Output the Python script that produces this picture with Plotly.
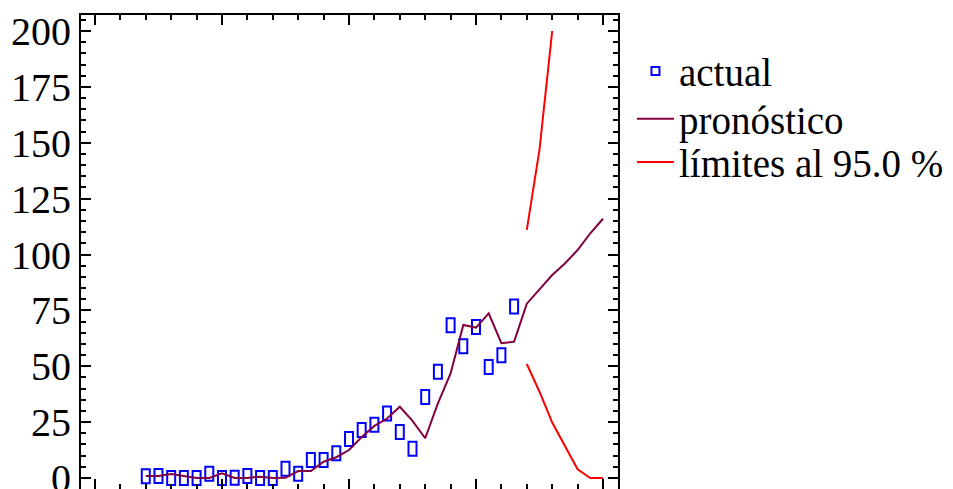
import plotly.graph_objects as go

# ---- data ----
x_actual = list(range(4, 34))
actual = [0.8, 0.9, 0, 0, 0, 1.9, 0, 0.1, 0.9, 0, 0, 4.1, 1.9, 8.1, 8.1, 11.1,
          17.5, 21.5, 23.8, 28.9, 20.6, 13.1, 36.2, 47.5, 68.3, 59.0, 67.6, 49.7, 54.9, 76.7]

x_forecast = list(range(4, 41))
forecast = [0.9, 0.9, 1.8, 0.9, 0, 0, 2.1, 0, 0, 0.6, 0, 0.1, 3.1, 3.1, 7.3, 9.3,
            12.5, 18.3, 23.3, 26.6, 31.9, 25.6, 17.8, 33.4, 46.8, 68.5, 67.3, 73.7,
            60.3, 61.0, 78.0, 84.4, 90.8, 96.0, 102.0, 109.5, 116.0]

x_limits = list(range(34, 41))
upper = [111.0, 147.0, 200.0, None, None, None, None]
lower = [51.0, 38.6, 24.8, 14.0, 3.9, 0, 0]

y_ticks = [0, 25, 50, 75, 100, 125, 150, 175, 200]

FONT = "Liberation Serif"
BLUE = "#0000FF"
MAROON = "#800040"
RED = "#FF0000"

fig = go.Figure()

# actual values (hover layer; visible markers drawn as pixel-sized rectangles below)
fig.add_trace(go.Scatter(x=x_actual, y=actual, mode="markers", name="actual",
                         marker=dict(color="rgba(0,0,0,0)", size=10),
                         showlegend=False))
# legend entry for actual
fig.add_trace(go.Scatter(x=[None], y=[None], mode="markers", name="actual",
                         marker=dict(symbol="square-open", size=8, color=BLUE,
                                     line=dict(color=BLUE, width=2)),
                         legend="legend"))
fig.add_trace(go.Scatter(x=x_forecast, y=forecast, mode="lines", name="pronóstico",
                         line=dict(color=MAROON, width=2), legend="legend2"))
fig.add_trace(go.Scatter(x=x_limits, y=upper, mode="lines", name="límites al 95.0 %",
                         line=dict(color=RED, width=2), legendgroup="lim",
                         legend="legend3"))
fig.add_trace(go.Scatter(x=x_limits, y=lower, mode="lines", name="lower",
                         line=dict(color=RED, width=2), legendgroup="lim",
                         showlegend=False, legend="legend3"))

# rectangular open markers (pixel-sized, anchored at data positions)
for xv, yv in zip(x_actual, actual):
    fig.add_shape(type="rect", xref="x", yref="y",
                  xsizemode="pixel", ysizemode="pixel",
                  xanchor=xv, yanchor=yv,
                  x0=-4, x1=4, y0=-7, y1=7,
                  line=dict(color=BLUE, width=2), layer="below")

axis_common = dict(showline=True, linecolor="black", linewidth=2, mirror="ticks",
                   ticks="inside", tickcolor="black", tickwidth=2,
                   showgrid=False, zeroline=False, automargin=False)

fig.update_xaxes(range=[-1.1, 41.18], dtick=10, tick0=0, ticklen=10,
                 showticklabels=False,
                 minor=dict(dtick=2, ticks="inside", ticklen=5, tickwidth=1.5,
                            tickcolor="black", showgrid=False),
                 **axis_common)
fig.update_yaxes(range=[-4.92, 207.16], tickvals=y_ticks, ticklen=10,
                 tickfont=dict(family=FONT, size=40, color="black"),
                 ticklabeloverflow="allow",
                 minor=dict(dtick=5, tick0=0, ticks="inside", ticklen=5, tickwidth=1.5,
                            tickcolor="black", showgrid=False),
                 **axis_common)

leg = dict(x=1.026, xanchor="left", yanchor="middle", itemwidth=37,
           font=dict(family=FONT, size=39, color="black"),
           bgcolor="rgba(0,0,0,0)", borderwidth=0)

fig.update_layout(
    width=953, height=489,
    margin=dict(l=73, r=343, t=7, b=8, autoexpand=False),
    paper_bgcolor="white", plot_bgcolor="white",
    font=dict(family=FONT, size=39, color="black"),
    showlegend=True,
    legend=dict(y=0.8818, **leg),
    legend2=dict(y=0.7806, **leg),
    legend3=dict(y=0.6898, **leg),
)

fig.write_html("out.html")
